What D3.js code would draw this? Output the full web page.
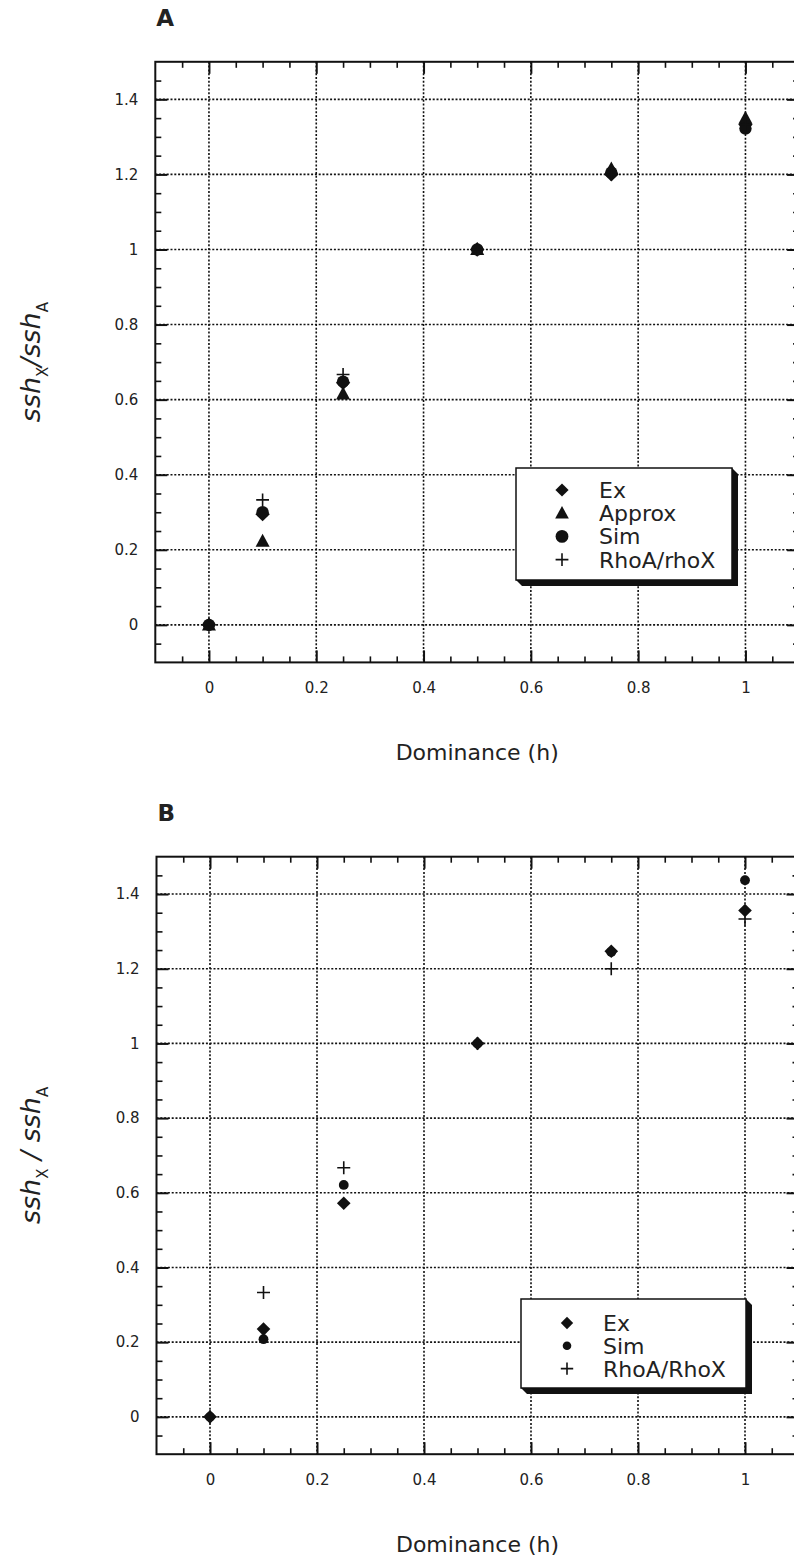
<!DOCTYPE html>
<html>
<head>
<meta charset="utf-8">
<script src="https://cdn.jsdelivr.net/npm/d3@7"></script>
<style>
  body { margin: 0; background: #fff; }
  svg { display: block; overflow: hidden; }
  text { font-family: "DejaVu Sans", sans-serif; fill: #222; }
</style>
</head>
<body>
<svg id="svg" width="794" height="1557"></svg>
<script>
// values
const hValues = [0, 0.1, 0.25, 0.5, 0.75, 1];
const xTicks = [0, 0.2, 0.4, 0.6, 0.8, 1];
const yTicks = [0, 0.2, 0.4, 0.6, 0.8, 1, 1.2, 1.4];
const xTickLabels = ["0", "0.2", "0.4", "0.6", "0.8", "1"];
const yTickLabels = ["0", "0.2", "0.4", "0.6", "0.8", "1", "1.2", "1.4"];

// panel A
const exA     = [0, 0.295, 0.645, 1.0, 1.200, 1.333];
const approxA = [0, 0.223, 0.615, 1.0, 1.215, 1.350];
const simA    = [0, 0.300, 0.648, 1.0, 1.205, 1.322];
const rhoA    = [0, 0.333, 0.667, 1.0, 1.200, 1.333];
const legendA = ["Ex", "Approx", "Sim", "RhoA/rhoX"];

// panel B
const exB  = [0, 0.235, 0.572, 1.0, 1.247, 1.356];
const simB = [0, 0.208, 0.621, 1.0, 1.245, 1.437];
const rhoB = [0, 0.333, 0.667, 1.0, 1.200, 1.333];
const legendB = ["Ex", "Sim", "RhoA/RhoX"];

const svg = d3.select("#svg");

// own symbol types
const diamond = { draw(ctx, r) { ctx.moveTo(0, -r); ctx.lineTo(r, 0); ctx.lineTo(0, r); ctx.lineTo(-r, 0); ctx.closePath(); } };
const triangle = { draw(ctx, r) { ctx.moveTo(0, -r); ctx.lineTo(r * 0.95, r * 0.75); ctx.lineTo(-r * 0.95, r * 0.75); ctx.closePath(); } };
const circle = { draw(ctx, r) { ctx.arc(0, 0, r, 0, 2 * Math.PI); } };
const plus = { draw(ctx, r) { ctx.moveTo(-r, 0); ctx.lineTo(r, 0); ctx.moveTo(0, -r); ctx.lineTo(0, r); } };

function marker(sel, type, r) {
  sel.attr("d", d3.symbol().type(type).size(r));
  if (type === plus) sel.attr("fill", "none").attr("stroke", "#111").attr("stroke-width", 1.6);
  else sel.attr("fill", "#111").attr("stroke", "none");
}

function drawPanel(p) {
  const x = d3.scaleLinear().domain([-0.1, 1.1]).range([p.left, p.left + 1.2 * p.xUnit]);
  const y = d3.scaleLinear().domain([-0.1, 1.5]).range([p.bottom, p.top]);
  const g = svg.append("g");
  const x0 = x(-0.1), x1 = x(1.1), y0 = y(1.5), y1 = y(-0.1);

  const minorX = d3.range(-2, 23).map(i => i * 0.05 - 0.05).filter(v => v > -0.1 && v < 1.1 && Math.round(v * 100) % 20 !== 0);
  const minorY = d3.range(0, 33).map(i => i * 0.05 - 0.1).filter(v => v > -0.1 && v < 1.5 && Math.round(v * 100) % 20 !== 0);

  // grid
  g.append("g").selectAll("line").data(xTicks).join("line")
    .attr("x1", d => x(d)).attr("x2", d => x(d)).attr("y1", y0).attr("y2", y1)
    .attr("stroke", "#111").attr("stroke-width", 1.6).attr("stroke-dasharray", "2,1.8");
  g.append("g").selectAll("line").data(yTicks).join("line")
    .attr("y1", d => y(d)).attr("y2", d => y(d)).attr("x1", x0).attr("x2", x1)
    .attr("stroke", "#111").attr("stroke-width", 1.6).attr("stroke-dasharray", "2,1.8");

  // axes: major and minor ticks point inward on all four sides
  const addAxis = (axis, tr, vals, size, labels, pad) => {
    const a = g.append("g").attr("transform", tr)
      .call(axis.tickValues(vals).tickSize(size).tickPadding(pad)
        .tickFormat(labels ? (d, i) => labels[i] : ""));
    a.select(".domain").remove();
    a.selectAll(".tick line").attr("stroke", "#111").attr("stroke-width", Math.abs(size) > 8 ? 2 : 1.6);
    a.selectAll(".tick text").style("font-size", "15px").style("font-family", "DejaVu Sans, sans-serif").attr("fill", "#2a2a2a");
    return a;
  };
  addAxis(d3.axisBottom(x), `translate(0,${y1})`, xTicks, -12, xTickLabels, 20);
  addAxis(d3.axisBottom(x), `translate(0,${y1})`, minorX, -6, null, 0);
  addAxis(d3.axisTop(x), `translate(0,${y0})`, xTicks, -12, null, 0);
  addAxis(d3.axisTop(x), `translate(0,${y0})`, minorX, -6, null, 0);
  addAxis(d3.axisLeft(y), `translate(${x0},0)`, yTicks, -12, yTickLabels, 17);
  addAxis(d3.axisLeft(y), `translate(${x0},0)`, minorY, -6, null, 0);
  addAxis(d3.axisRight(y), `translate(${x1},0)`, yTicks, -12, null, 0);
  addAxis(d3.axisRight(y), `translate(${x1},0)`, minorY, -6, null, 0);

  g.append("rect").attr("x", x0).attr("y", y0).attr("width", x1 - x0).attr("height", y1 - y0)
    .attr("fill", "none").attr("stroke", "#111").attr("stroke-width", 2);

  // points
  p.series.forEach(s => {
    g.append("g").selectAll("path").data(s.values).join("path")
      .attr("transform", (d, i) => `translate(${x(hValues[i])},${y(d)})`)
      .call(marker, s.type, s.r);
  });

  // legend box with drop shadow
  const L = p.legend;
  const bx0 = L.x, by0 = L.y, bx1 = L.x + L.w, by1 = L.y + L.h, sh = 6;
  g.append("polygon")
    .attr("points", [[bx1, by0], [bx1 + sh, by0 + sh], [bx1 + sh, by1 + sh], [bx0 + sh, by1 + sh], [bx0, by1]].join(" "))
    .attr("fill", "#111");
  g.append("rect").attr("x", bx0).attr("y", by0).attr("width", L.w).attr("height", L.h)
    .attr("fill", "#fff").attr("stroke", "#111").attr("stroke-width", 1.5);
  const rows = g.append("g").selectAll("g").data(p.series).join("g")
    .attr("transform", (d, i) => `translate(${L.symX},${L.row0 + i * L.step})`);
  rows.append("path").each(function (d) { d3.select(this).call(marker, d.type, d.lr); });
  rows.append("text").attr("x", L.textX - L.symX).attr("dy", "0.36em")
    .style("font-size", "22px").attr("fill", "#111").text((d, i) => L.labels[i]);

  // titles
  svg.append("text").attr("x", p.left + 1).attr("y", p.top - 36)
    .style("font-size", "23px").style("font-weight", "bold").attr("fill", "#111").text(p.title);
  svg.append("text").attr("x", x(0.5)).attr("y", y1 + 98).attr("text-anchor", "middle")
    .style("font-size", "22px").text("Dominance (h)");

  const yl = svg.append("text")
    .attr("transform", `translate(40,${(y0 + y1) / 2}) rotate(-90)`)
    .attr("text-anchor", "middle").style("font-size", "27px");
  yl.append("tspan").style("font-style", "italic").text("ssh");
  yl.append("tspan").attr("dy", 8).style("font-size", "15px").text("X");
  yl.append("tspan").attr("dy", -8).style("font-style", "italic").text(p.slash);
  yl.append("tspan").attr("dy", 8).style("font-size", "15px").text("A");
}

drawPanel({
  title: "A", left: 155.3, xUnit: 536.5, top: 61.8, bottom: 662.4, slash: "/ssh",
  series: [
    { values: exA, type: diamond, r: 7.2, lr: 6.6 },
    { values: approxA, type: triangle, r: 7.4, lr: 7.2 },
    { values: simA, type: circle, r: 6.2, lr: 6.4 },
    { values: rhoA, type: plus, r: 6.4, lr: 6.4 }
  ],
  legend: { x: 516, y: 468, w: 216, h: 112, symX: 562, textX: 599, row0: 490, step: 23.2, labels: legendA }
});

drawPanel({
  title: "B", left: 156.5, xUnit: 535, top: 856.7, bottom: 1454.2, slash: " / ssh",
  series: [
    { values: exB, type: diamond, r: 6.8, lr: 6.2 },
    { values: simB, type: circle, r: 4.9, lr: 4.3 },
    { values: rhoB, type: plus, r: 6.5, lr: 6.2 }
  ],
  legend: { x: 521, y: 1299, w: 225, h: 89, symX: 567, textX: 603, row0: 1323, step: 22.8, labels: legendB }
});
</script>
</body>
</html>
